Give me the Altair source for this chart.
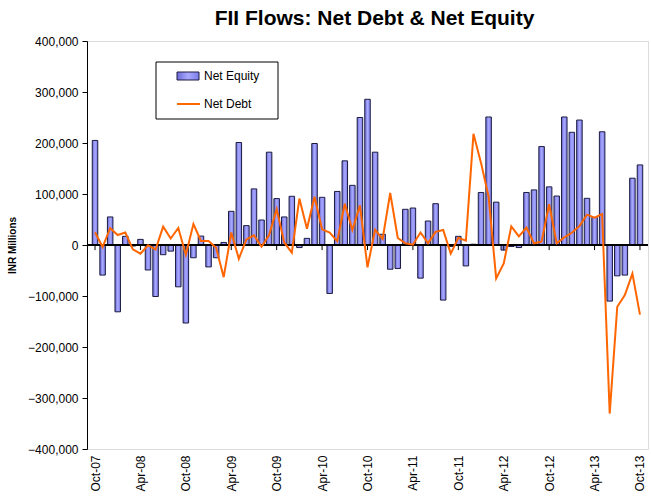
import altair as alt
import pandas as pd

# ---- data -------------------------------------------------------------
months = list(pd.date_range("2007-10-01", periods=73, freq="MS").strftime("%b-%y"))

net_equity = [
    205000, -59000, 55000, -131000, 17000, -2000, 11000, -49000, -101000, -19000, -12000, -82000,
    -153000, -25000, 17500, -43000, -25000, 5000, 66000, 201000, 38000, 110000, 49000, 182000,
    91000, 55000, 95500, -5000, 13000, 199000, 93500, -95000, 105000, 165000, 117000, 250000,
    285700, 182000, 21000, -47500, -46000, 70000, 72500, -65000, 47000, 81000, -108000, -3000,
    17000, -41000, 1500, 103000, 251000, 84000, -10000, -3000, -5000, 103000, 108000, 193000,
    114000, 96000, 251000, 221000, 245000, 91500, 54000, 222000, -110000, -60500, -59000, 131000, 157000,
]

net_debt = [
    25000, -4000, 33000, 19600, 24500, -8500, -17000, -500, -9000, 36000, 12800, 33500,
    -19000, 41000, 7800, 7800, -5500, -63000, 24500, -27000, 11000, 19000, -3300, 19500,
    70000, 5000, -15000, 91000, 31700, 94700, 30700, 24500, 7500, 81000, 29400, 77700,
    -43800, 29800, 12000, 102000, 13700, 3300, 500, 24500, 3600, 25700, 29400, -17000,
    14000, 8500, 218000, 161000, 94700, -65400, -36000, 36600, 17000, 34300, 3300, 6500,
    80000, 3300, 15000, 24000, 37000, 59500, 53600, 60500, -330500, -121000, -98000, -56000, -136500,
]

tick_labels = ["Oct-07", "Apr-08", "Oct-08", "Apr-09", "Oct-09", "Apr-10", "Oct-10",
               "Apr-11", "Oct-11", "Apr-12", "Oct-12", "Apr-13", "Oct-13"]
y_ticks = [-400000, -300000, -200000, -100000, 0, 100000, 200000, 300000, 400000]

df = pd.DataFrame({"idx": list(range(len(months))), "month": months,
                   "equity": net_equity, "debt": net_debt})
tick_pos = [months.index(t) for t in tick_labels]
ticks_df = pd.DataFrame({"idx": tick_pos})

FONT = "Liberation Sans"
label_expr = "[" + ",".join("'" + t + "'" for t in tick_labels) + "][round(datum.value/6)]"

x_scale = alt.Scale(domain=[-0.4, 72.4], nice=False, zero=False)
y_scale = alt.Scale(domain=[-400000, 400000], nice=False)

x_enc = alt.X("idx:Q", scale=x_scale,
              axis=alt.Axis(values=tick_pos, labelExpr=label_expr, labelAngle=270,
                            labelFont=FONT, labelFontSize=12, labelColor="black",
                            labelPadding=6, ticks=False, domain=False, grid=False,
                            title=None))
y_enc = alt.Y("equity:Q", scale=y_scale,
              axis=alt.Axis(values=y_ticks, format=",.0f", labelFont=FONT, labelFontSize=12,
                            labelColor="black", labelPadding=4, tickSize=5,
                            tickColor="black", domainColor="black", grid=False,
                            title="INR Millions", titleFont=FONT, titleFontSize=10,
                            titleFontWeight="bold", titleColor="black",
                            titleX=-70, titleY=204))

bar_fill = alt.Gradient(gradient="linear", x1=0, x2=1, y1=0, y2=0,
                        stops=[alt.GradientStop(color="#6b6bd6", offset=0),
                               alt.GradientStop(color="#a9a9ff", offset=0.5),
                               alt.GradientStop(color="#7c7ce8", offset=1)])

bars = alt.Chart(df).mark_bar(size=5.5, fill=bar_fill, stroke="#1c1c40",
                              strokeWidth=1).encode(x=x_enc, y=y_enc)

zero_line = alt.Chart(df).mark_rule(color="black", strokeWidth=1).encode(
    y=alt.datum(0, scale=y_scale))

x_ticks = alt.Chart(ticks_df).mark_rule(color="black", strokeWidth=1).encode(
    x=alt.X("idx:Q", scale=x_scale),
    y=alt.datum(0, scale=y_scale),
    y2=alt.datum(-10000))

line = alt.Chart(df).mark_line(color="#FF6600", strokeWidth=2).encode(
    x=alt.X("idx:Q", scale=x_scale),
    y=alt.Y("debt:Q", scale=y_scale))

# ---- legend -----------------------------------------------------------
one = pd.DataFrame({"a": [0]})
leg_box = alt.Chart(one).mark_rect(fill="white", stroke="black", strokeWidth=1).encode(
    x=alt.value(69), x2=alt.value(191), y=alt.value(21), y2=alt.value(78))
leg_bar = alt.Chart(one).mark_rect(fill=bar_fill, stroke="#1c1c40", strokeWidth=1).encode(
    x=alt.value(90), x2=alt.value(112), y=alt.value(31), y2=alt.value(39))
leg_line = alt.Chart(one).mark_rule(color="#FF6600", strokeWidth=2).encode(
    x=alt.value(90), x2=alt.value(113), y=alt.value(63))
leg_t1 = alt.Chart(one).mark_text(text="Net Equity", align="left", baseline="middle",
                                  font=FONT, fontSize=12, color="black").encode(
    x=alt.value(117), y=alt.value(35))
leg_t2 = alt.Chart(one).mark_text(text="Net Debt", align="left", baseline="middle",
                                  font=FONT, fontSize=12, color="black").encode(
    x=alt.value(117), y=alt.value(63))

chart = alt.layer(bars, zero_line, x_ticks, line, leg_box, leg_bar, leg_line, leg_t1, leg_t2).properties(
    width=561, height=408,
    title=alt.TitleParams("FII Flows: Net Debt & Net Equity", font=FONT, fontSize=21,
                          fontWeight="bold", color="black", anchor="middle", dx=7, offset=6),
    autosize=alt.AutoSizeParams(type="none"),
    padding={"left": 87, "top": 41, "right": 3, "bottom": 50},
).configure_view(stroke="#808080", strokeWidth=1).configure(background="white")

chart.save("out.html", embed_options={"renderer": "svg", "actions": False})
